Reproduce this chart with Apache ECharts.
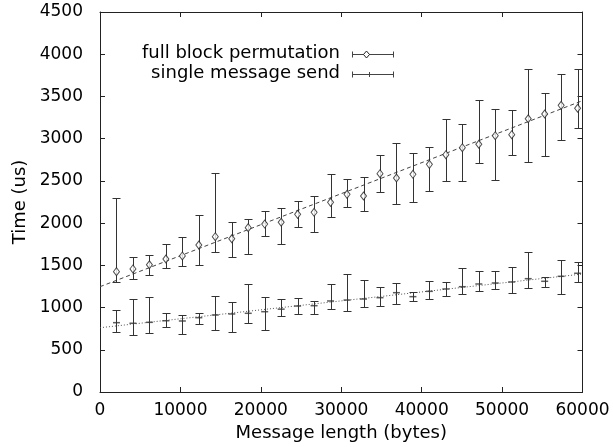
<!DOCTYPE html>
<html>
<head>
<meta charset="utf-8">
<script src="https://cdn.jsdelivr.net/npm/echarts@6/dist/echarts.min.js"></script>
<style>html,body{margin:0;padding:0;background:#fff;}#c{width:613px;height:447px;}</style>
</head>
<body>
<div id="c"></div>
<script>
// Message lengths (bytes)
const sizes = [2048,4096,6144,8192,10240,12288,14336,16384,18432,20480,22528,24576,26624,28672,30720,32768,34816,36864,38912,40960,43008,45056,47104,49152,51200,53248,55296,57344,59392];
// full block permutation: mean, low, high (us)
const blockMean = [1425,1457,1507,1575,1611,1741,1839,1815,1946,1989,2010,2104,2128,2246,2341,2321,2585,2534,2578,2696,2810,2893,2934,3035,3047,3236,3292,3395,3360];
const blockLow  = [1299,1342,1389,1468,1489,1507,1658,1599,1631,1844,1753,1957,1891,2072,2187,2147,2372,2223,2254,2377,2495,2493,2712,2507,2803,2720,2798,2981,3123];
const blockHigh = [2301,1602,1619,1749,1839,2096,2590,2013,2045,2140,2175,2262,2325,2578,2522,2550,2803,2952,2830,2905,3233,3174,3458,3355,3336,3821,3541,3762,3821];
// single message send: mean, low, high (us)
const singleMean = [821,814,825,844,841,880,912,924,932,951,981,1018,1022,1078,1089,1101,1117,1176,1129,1192,1220,1247,1279,1291,1303,1342,1311,1370,1406];
const singleLow  = [714,671,695,773,687,802,734,707,814,734,900,920,927,983,963,1010,1018,1042,1078,1101,1137,1164,1196,1220,1172,1228,1243,1161,1299];
const singleHigh = [971,1098,1121,939,908,932,1137,1069,1279,1129,1107,1117,1081,1275,1397,1326,1240,1287,1184,1318,1306,1465,1436,1429,1480,1661,1365,1563,1543];
// fitted lines: [x, y] endpoints
const fitX = [0, 60000];
const blockFit = [1247, 3450];
const singleFit = [761, 1397];
// axis ticks
const xTicks = [0,10000,20000,30000,40000,50000,60000];
const yTicks = [0,500,1000,1500,2000,2500,3000,3500,4000,4500];

const FONT = 'DejaVu Sans';
const INK = '#222';

function errData(mean, lo, hi){ return sizes.map((s,i)=>[s, mean[i], lo[i], hi[i]]); }
function errRender(params, api){
  const x = api.value(0), lo = api.value(2), hi = api.value(3);
  const p1 = api.coord([x, hi]), p2 = api.coord([x, lo]);
  const px = Math.round(p1[0]) + 0.5;
  const y1 = Math.round(p1[1]) + 0.5, y2 = Math.round(p2[1]) + 0.5;
  const w = 4, st = {stroke: '#333', lineWidth: 1};
  return {type:'group', children:[
    {type:'line', shape:{x1:px,y1:y1,x2:px,y2:y2}, style:st},
    {type:'line', shape:{x1:px-w,y1:y1,x2:px+w,y2:y1}, style:st},
    {type:'line', shape:{x1:px-w,y1:y2,x2:px+w,y2:y2}, style:st}
  ]};
}

const axisLine = {show:true, onZero:false, lineStyle:{color:INK, width:1}};
const tick = {show:true, inside:true, length:5, lineStyle:{color:INK}};
const plain = v => String(v);
const chart = echarts.init(document.getElementById('c'), null, {renderer:'canvas'});
chart.setOption({
  animation:false,
  backgroundColor:'#fff',
  grid:{left:100, right:30.5, top:12, bottom:55, containLabel:false, outerBoundsMode:'none'},
  xAxis:[
    {type:'value', min:xTicks[0], max:xTicks[xTicks.length-1], interval:10000, position:'bottom',
     axisLine:axisLine, axisTick:tick, splitLine:{show:false},
     axisLabel:{margin:10, color:'#000', fontFamily:FONT, fontSize:17, formatter:plain},
     name:'Message length (bytes)', nameLocation:'middle', nameGap:32,
     nameTextStyle:{color:'#000', fontFamily:FONT, fontSize:18}},
    {type:'value', min:xTicks[0], max:xTicks[xTicks.length-1], interval:10000, position:'top',
     axisLine:axisLine, axisTick:tick, splitLine:{show:false}, axisLabel:{show:false}}
  ],
  yAxis:[
    {type:'value', min:yTicks[0], max:yTicks[yTicks.length-1], interval:500, position:'left',
     axisLine:axisLine, axisTick:tick, splitLine:{show:false},
     axisLabel:{margin:17, color:'#000', fontFamily:FONT, fontSize:17, formatter:plain},
     name:'Time (us)', nameLocation:'middle', nameGap:67, nameRotate:90,
     nameTextStyle:{color:'#000', fontFamily:FONT, fontSize:18}},
    {type:'value', min:yTicks[0], max:yTicks[yTicks.length-1], interval:500, position:'right',
     axisLine:axisLine, axisTick:tick, splitLine:{show:false}, axisLabel:{show:false}}
  ],
  series:[
    {name:'block fit', type:'line', data:fitX.map((x,i)=>[x, blockFit[i]]), symbol:'none',
     lineStyle:{color:'#444', width:1, type:[4,3]}, z:1},
    {name:'single fit', type:'line', data:fitX.map((x,i)=>[x, singleFit[i]]), symbol:'none',
     lineStyle:{color:'#555', width:1, type:[1,2]}, z:1},
    {name:'full block permutation err', type:'custom', renderItem:errRender,
     data:errData(blockMean, blockLow, blockHigh), encode:{x:0, y:[2,3]}, z:2},
    {name:'single message send err', type:'custom', renderItem:errRender,
     data:errData(singleMean, singleLow, singleHigh), encode:{x:0, y:[2,3]}, z:2},
    {name:'full block permutation', type:'scatter', data:sizes.map((s,i)=>[s, blockMean[i]]),
     symbol:'diamond', symbolSize:[6,8],
     itemStyle:{color:'#fff', borderColor:'#222', borderWidth:1}, z:3},
    {name:'single message send', type:'scatter', data:sizes.map((s,i)=>[s, singleMean[i]]),
     symbol:'rect', symbolSize:[7,1.5], itemStyle:{color:'#333'}, z:3}
  ],
  graphic:[
    {type:'text', x:340, y:53, style:{text:'full block permutation', fill:'#000',
      font:'18px "'+FONT+'"', textAlign:'right', textVerticalAlign:'middle'}},
    {type:'text', x:340, y:73, style:{text:'single message send', fill:'#000',
      font:'18px "'+FONT+'"', textAlign:'right', textVerticalAlign:'middle'}},
    {type:'group', children:[
      {type:'line', shape:{x1:352.5,y1:54.5,x2:393.5,y2:54.5}, style:{stroke:'#444',lineWidth:1}},
      {type:'line', shape:{x1:352.5,y1:51.5,x2:352.5,y2:57.5}, style:{stroke:'#444',lineWidth:1}},
      {type:'line', shape:{x1:393.5,y1:51.5,x2:393.5,y2:57.5}, style:{stroke:'#444',lineWidth:1}},
      {type:'polygon', shape:{points:[[366.5,51],[369.5,54.5],[366.5,58],[363.5,54.5]]}, style:{fill:'#fff',stroke:'#222',lineWidth:1}},
      {type:'line', shape:{x1:352.5,y1:74.5,x2:393.5,y2:74.5}, style:{stroke:'#444',lineWidth:1}},
      {type:'line', shape:{x1:352.5,y1:71.5,x2:352.5,y2:77.5}, style:{stroke:'#444',lineWidth:1}},
      {type:'line', shape:{x1:393.5,y1:71.5,x2:393.5,y2:77.5}, style:{stroke:'#444',lineWidth:1}},
      {type:'line', shape:{x1:369.5,y1:72,x2:369.5,y2:77}, style:{stroke:'#444',lineWidth:1}}
    ]}
  ]
});
</script>
</body>
</html>
